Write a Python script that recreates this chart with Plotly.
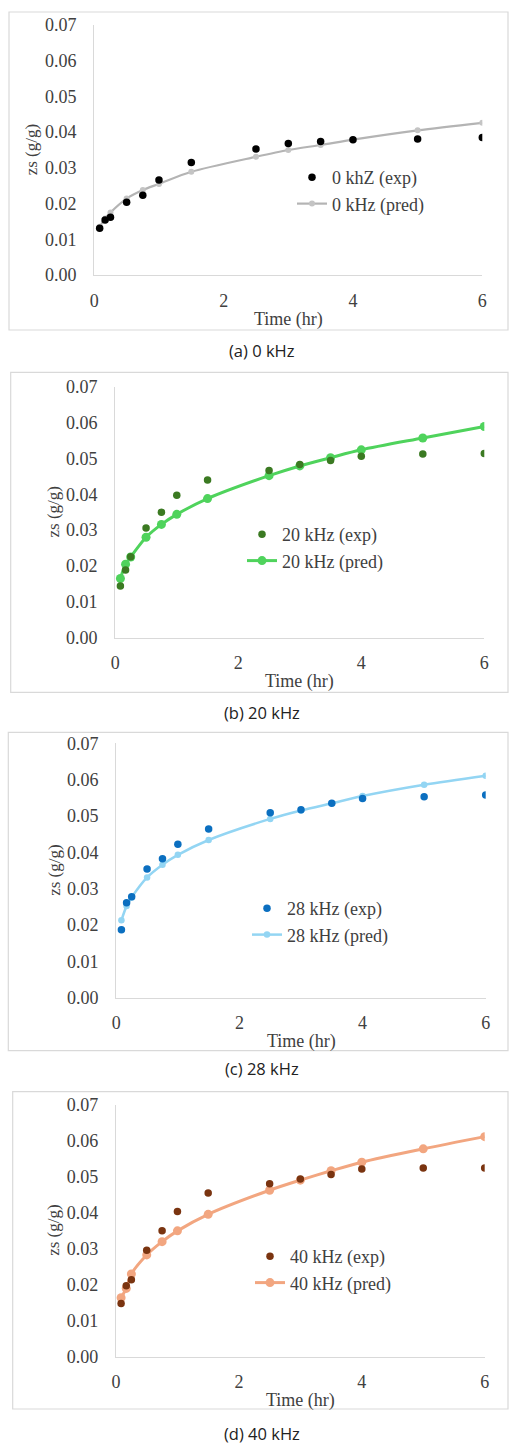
import plotly.graph_objects as go

# ---------------- data ----------------
time_hr = [0.083, 0.167, 0.25, 0.5, 0.75, 1, 1.5, 2.5, 3, 3.5, 4, 5, 6]

exp_0khz = [0.0131, 0.0154, 0.0162, 0.0204, 0.0223, 0.0266, 0.0315, 0.0353, 0.0368, 0.0374, 0.0379, 0.0381, 0.0385]
pred_0khz = [0.0135, 0.0158, 0.0175, 0.0214, 0.0238, 0.0255, 0.0289, 0.0331, 0.0350, 0.0364, 0.0379, 0.0405, 0.0426]

exp_20khz = [0.0144, 0.0189, 0.0226, 0.0306, 0.0350, 0.0397, 0.0440, 0.0466, 0.0483, 0.0494, 0.0506, 0.0512, 0.0514]
pred_20khz = [0.0165, 0.0205, 0.0225, 0.0280, 0.0316, 0.0344, 0.0388, 0.0452, 0.0479, 0.0502, 0.0524, 0.0557, 0.0589]

exp_28khz = [0.0187, 0.0261, 0.0278, 0.0354, 0.0382, 0.0422, 0.0464, 0.0509, 0.0517, 0.0535, 0.0548, 0.0553, 0.0558]
pred_28khz = [0.0213, 0.0252, 0.0276, 0.0331, 0.0366, 0.0393, 0.0434, 0.0492, 0.0515, 0.0535, 0.0555, 0.0586, 0.0611]

exp_40khz = [0.0148, 0.0197, 0.0214, 0.0296, 0.0350, 0.0404, 0.0455, 0.0481, 0.0494, 0.0507, 0.0522, 0.0525, 0.0525]
pred_40khz = [0.0164, 0.0190, 0.0230, 0.0283, 0.0320, 0.0350, 0.0396, 0.0463, 0.0491, 0.0517, 0.0541, 0.0578, 0.0612]

exp_names = ["0 khZ (exp)", "20 kHz (exp)", "28 kHz (exp)", "40 kHz (exp)"]
pred_names = ["0 kHz (pred)", "20 kHz (pred)", "28 kHz (pred)", "40 kHz (pred)"]
captions = ["(a) 0 kHz", "(b) 20 kHz", "(c) 28 kHz", "(d) 40 kHz"]
x_title = "Time (hr)"
y_title = "zs (g/g)"
y_ticks = [0.00, 0.01, 0.02, 0.03, 0.04, 0.05, 0.06, 0.07]
x_ticks = [0, 2, 4, 6]

exp_series = [exp_0khz, exp_20khz, exp_28khz, exp_40khz]
pred_series = [pred_0khz, pred_20khz, pred_28khz, pred_40khz]

# ---------------- styling ----------------
W, H = 509, 1446
SERIF = "Liberation Serif"
TXT = "#404040"
exp_colors = ["#000000", "#3b7a22", "#0b6fc0", "#7a3410"]
pred_line_colors = ["#b4b4b4", "#4fd35c", "#93d5f3", "#f2a680"]
pred_marker_colors = ["#c4c4c4", "#4fd35c", "#93d5f3", "#f2a680"]
pred_line_widths = [2.2, 3, 2.5, 3]
pred_marker_sizes = [6, 9, 6.5, 9]

# plot area pixel boxes: (x0, x6, y_top(0.07), y_bottom(0))
plot_boxes = [
    (94.3, 482.3, 25.0, 275.0),
    (115.3, 484.3, 386.7, 637.7),
    (116.3, 485.7, 743.3, 997.7),
    (116.0, 484.7, 1105.0, 1356.7),
]
frames = [
    (9, 12, 508, 330),
    (10.7, 372.3, 508, 692.3),
    (8.3, 732.3, 508, 1050.7),
    (12.7, 1091.7, 508, 1409),
]
legend_pos = [  # (left px, top px)
    (292, 159),
    (242, 516),
    (247, 890),
    (250, 1238),
]
caption_y = [350, 712, 1068, 1433]

def px(x):
    return x / W

def py(y):
    return 1 - y / H

fig = go.Figure()
annotations = []
shapes = []
layout_axes = {}

for i in range(4):
    sfx = "" if i == 0 else str(i + 1)
    xa, ya = "x" + sfx, "y" + sfx
    leg = "legend" if i == 0 else "legend" + str(i + 1)
    x0, x1, yt, yb = plot_boxes[i]

    fig.add_trace(go.Scatter(
        x=time_hr, y=pred_series[i], mode="lines+markers", name=pred_names[i],
        line=dict(color=pred_line_colors[i], width=pred_line_widths[i], shape="spline", smoothing=0.8),
        marker=dict(color=pred_marker_colors[i], size=pred_marker_sizes[i]),
        xaxis=xa, yaxis=ya, legend=leg, legendrank=2,
    ))
    fig.add_trace(go.Scatter(
        x=time_hr, y=exp_series[i], mode="markers", name=exp_names[i],
        marker=dict(color=exp_colors[i], size=7.5),
        xaxis=xa, yaxis=ya, legend=leg, legendrank=1,
    ))

    layout_axes["xaxis" + sfx] = dict(
        domain=[px(x0), px(x1)], range=[0, 6], anchor=ya, automargin=False,
        tickvals=x_ticks, ticktext=[str(t) for t in x_ticks],
        showgrid=False, zeroline=False, showline=True, linecolor="#d9d9d9", linewidth=1.3,
        ticks="", ticklabelstandoff=9,
        tickfont=dict(family=SERIF, size=18, color=TXT),
    )
    layout_axes["yaxis" + sfx] = dict(
        domain=[py(yb), py(yt)], range=[0, 0.07], anchor=xa, automargin=False,
        tickvals=y_ticks, ticktext=["%.2f" % t for t in y_ticks],
        showgrid=False, zeroline=False, showline=True, linecolor="#d9d9d9", linewidth=1.3,
        ticks="", ticklabelstandoff=13,
        tickfont=dict(family=SERIF, size=18, color=TXT),
    )

    lx, ly = legend_pos[i]
    layout_axes[leg] = dict(
        x=px(lx), y=py(ly), xanchor="left", yanchor="top",
        bgcolor="rgba(0,0,0,0)", borderwidth=0,
        font=dict(family=SERIF, size=18, color=TXT),
        tracegroupgap=0, itemwidth=30,
    )

    # axis titles
    annotations.append(dict(
        text=x_title, xref="paper", yref="paper",
        x=px((x0 + x1) / 2), y=py(yb + 44), xanchor="center", yanchor="middle",
        showarrow=False, font=dict(family=SERIF, size=18, color=TXT),
    ))
    annotations.append(dict(
        text=y_title, xref="paper", yref="paper",
        x=px(x0 - 62), y=py((yt + yb) / 2), xanchor="center", yanchor="middle",
        textangle=-90, showarrow=False,
        font=dict(family=SERIF, size=17, color=TXT),
    ))
    # caption
    annotations.append(dict(
        text=captions[i], xref="paper", yref="paper",
        x=px(262), y=py(caption_y[i]), xanchor="center", yanchor="middle",
        showarrow=False, font=dict(family="Open Sans", size=16.5, color="#222222"),
    ))
    fx0, fy0, fx1, fy1 = frames[i]
    shapes.append(dict(
        type="rect", xref="paper", yref="paper",
        x0=px(fx0), x1=px(fx1), y0=py(fy1), y1=py(fy0),
        line=dict(color="#d9d9d9", width=1.2), fillcolor="rgba(0,0,0,0)", layer="below",
    ))

fig.update_layout(
    width=W, height=H,
    margin=dict(l=0, r=0, t=0, b=0, autoexpand=False),
    paper_bgcolor="white", plot_bgcolor="white",
    showlegend=True,
    annotations=annotations, shapes=shapes,
    **layout_axes,
)

fig.write_html(
    "out.html",
    config={"displayModeBar": False},
    post_script="document.body.style.margin='0';document.body.style.padding='0';"
                "document.documentElement.style.overflow='hidden';",
)
